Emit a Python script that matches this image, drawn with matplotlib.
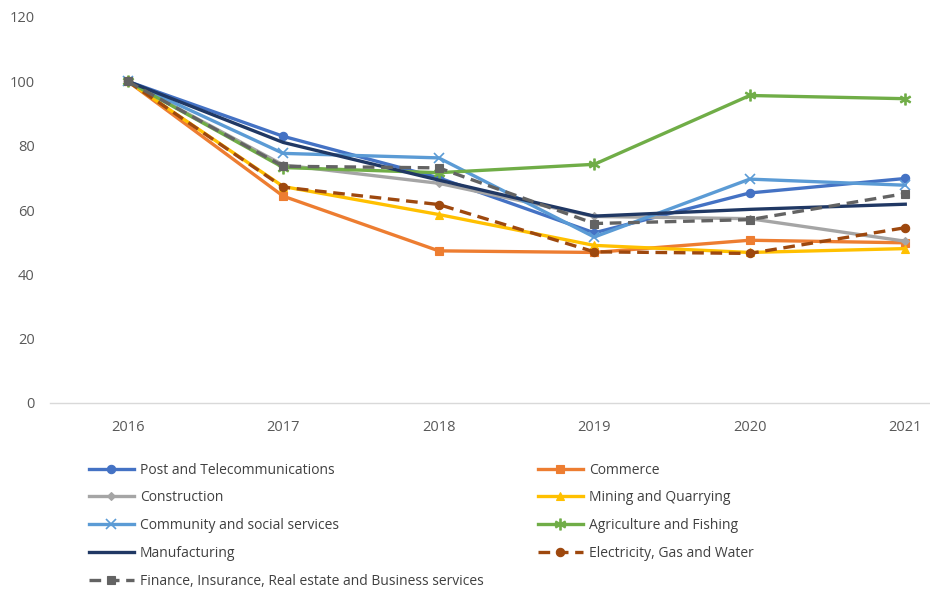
import matplotlib.pyplot as plt

plt.rcParams['font.family'] = ['Open Sans', 'DejaVu Sans']

years = [2016, 2017, 2018, 2019, 2020, 2021]

post = [100, 82.9, 70.0, 52.9, 65.3, 69.8]
commerce = [100, 64.3, 47.3, 46.8, 50.6, 49.8]
construction = [100, 74.0, 68.3, 58.0, 57.3, 50.3]
mining = [100, 67.3, 58.6, 49.0, 46.8, 48.0]
community = [100, 77.6, 76.2, 51.6, 69.6, 67.7]
agriculture = [100, 73.2, 71.6, 74.2, 95.6, 94.6]
manufacturing = [100, 81.0, 69.3, 58.1, 60.2, 61.8]
electricity = [100, 67.1, 61.7, 47.0, 46.5, 54.5]
finance = [100, 73.6, 73.1, 55.8, 57.0, 65.1]

# label, data, colour, marker, dashed
series = [
    ("Post and Telecommunications", post, "#4472C4", "o", False),
    ("Commerce", commerce, "#ED7D31", "s", False),
    ("Construction", construction, "#A5A5A5", "D", False),
    ("Mining and Quarrying", mining, "#FFC000", "^", False),
    ("Community and social services", community, "#5B9BD5", "x", False),
    ("Agriculture and Fishing", agriculture, "#70AD47", "$\\ast$", False),
    ("Manufacturing", manufacturing, "#203864", None, False),
    ("Electricity, Gas and Water", electricity, "#9E480E", "o", True),
    ("Finance, Insurance, Real estate and Business services", finance, "#636363", "s", True),
]

fig = plt.figure(figsize=(9.3, 5.89), dpi=100)
ax = fig.add_axes([50 / 930, 1 - 403 / 589, 880 / 930, 386 / 589])

handles = {}
for label, data, color, marker, dashed in series:
    ms = 6
    if marker == "D":
        ms = 4
    elif marker == "x":
        ms = 7
    elif marker == "$\\ast$":
        ms = 8
    line, = ax.plot(years, data, color=color, lw=2.4,
                    linestyle=(0, (3.5, 2)) if dashed else "-",
                    marker=marker, markersize=ms,
                    markeredgewidth=1.2 if marker == "x" else 0.8,
                    label=label)
    handles[label] = line

ax.set_xlim(2015.5, 2015.5 + 880 / 155.5)
ax.set_ylim(0, 120)
ax.set_yticks(range(0, 121, 20))
ax.set_xticks(years)

for s in ["top", "right", "left"]:
    ax.spines[s].set_visible(False)
ax.spines["bottom"].set_color("#D9D9D9")
ax.spines["bottom"].set_linewidth(1)
ax.tick_params(axis="both", length=0, labelsize=10.5, labelcolor="#595959")
ax.tick_params(axis="x", pad=12)
ax.tick_params(axis="y", pad=11)

col1 = [series[i][0] for i in (0, 2, 4, 6, 8)]
col2 = [series[i][0] for i in (1, 3, 5, 7)]

fig.legend([handles[k] for k in col1], col1,
           loc="upper left", bbox_to_anchor=(76 / 930, 1 - 450 / 589),
           frameon=False, fontsize=10, handlelength=3.3,
           handletextpad=0.4, labelspacing=0.92, labelcolor="#404040")
fig.legend([handles[k] for k in col2], col2,
           loc="upper left", bbox_to_anchor=(525 / 930, 1 - 450 / 589),
           frameon=False, fontsize=10, handlelength=3.3,
           handletextpad=0.4, labelspacing=0.92, labelcolor="#404040")

plt.savefig("out.png", dpi=100)
